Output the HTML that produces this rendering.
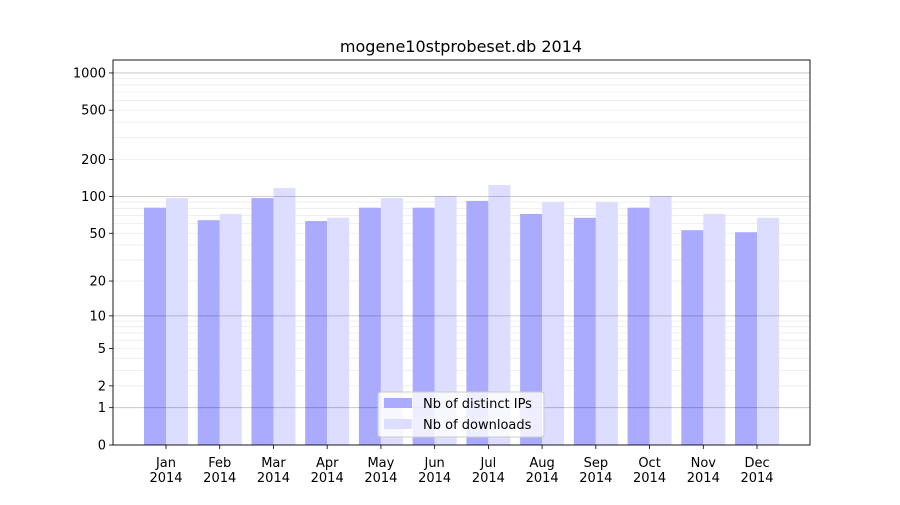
<!DOCTYPE html>
<html><head><meta charset="utf-8"><style>
body{margin:0;background:#fff;font-family:"Liberation Sans","DejaVu Sans",sans-serif;}
svg text{font-family:"DejaVu Sans","Liberation Sans",sans-serif;}
</style></head><body>
<svg id="c" width="900" height="500" xmlns="http://www.w3.org/2000/svg"></svg>
<script>
const months=["Jan","Feb","Mar","Apr","May","Jun","Jul","Aug","Sep","Oct","Nov","Dec"];
const ips=[81,64,97,63,81,81,92,72,67,81,53,51];
const downloads=[97,72,117,67,97,101,124,90,90,101,72,67];
const yTicks=[0,1,2,5,10,20,50,100,200,500,1000];
const NS="http://www.w3.org/2000/svg";
const svg=document.getElementById('c');
const L=113,R=810,T=60,B=445;
function y(v){return B-124*Math.log10(1+v);}
function x(i){return 166+53.73*i;}
function el(t,a,p){const e=document.createElementNS(NS,t);for(const k in a)e.setAttribute(k,a[k]);(p||svg).appendChild(e);return e;}
const grid=el('g',{});


[1,10,100,1000].forEach(d=>{for(let m=2;m<=9;m++){const v=d*m;if(y(v)<T)continue;
const l=el('line',{x1:L,x2:R,y1:y(v),y2:y(v),stroke:'#ececec','stroke-width':0.8},grid);
}});
months.forEach((m,i)=>{
const b1=el('rect',{x:x(i)-22,y:y(ips[i]),width:22,height:B-y(ips[i]),fill:'#aaaaff'});


const b2=el('rect',{x:x(i),y:y(downloads[i]),width:22,height:B-y(downloads[i]),fill:'#ddddff'});


el('line',{x1:x(i),x2:x(i),y1:B,y2:B+4,stroke:'#000','stroke-width':0.8});
const tx=el('text',{x:x(i),y:B+22,'font-size':13,'text-anchor':'middle'});


tx.innerHTML='<tspan x="'+x(i)+'">'+m+'</tspan><tspan x="'+x(i)+'" dy="15">2014</tspan>';
});
[1,10,100,1000].forEach(v=>{const l=el('line',{x1:L,x2:R,y1:y(v),y2:y(v),stroke:'#000','stroke-opacity':0.25,'stroke-width':0.8});
});
yTicks.forEach(v=>{
el('line',{x1:L-4,x2:L,y1:y(v),y2:y(v),stroke:'#000','stroke-width':0.8});
const t=el('text',{x:L-7,y:y(v)+4.5,'font-size':13,'text-anchor':'end'});


t.textContent=v;
});
const fr=el('rect',{x:L,y:T,width:R-L,height:B-T,fill:'none',stroke:'#000','stroke-width':0.9});


const ti=el('text',{x:461,y:52,'font-size':16,'text-anchor':'middle'});


ti.textContent='mogene10stprobeset.db 2014';
const lg=el('g',{});


el('rect',{x:378,y:392,width:166,height:45,rx:3,fill:'#fff','fill-opacity':0.8,stroke:'#ccc'},lg);
el('rect',{x:384,y:398,width:28,height:10,fill:'#aaaaff'},lg);
el('rect',{x:384,y:419,width:28,height:10,fill:'#ddddff'},lg);
const l1=el('text',{x:423,y:408,'font-size':13},lg);l1.textContent='Nb of distinct IPs';

const l2=el('text',{x:423,y:429,'font-size':13},lg);l2.textContent='Nb of downloads';

</script>
</body></html>
